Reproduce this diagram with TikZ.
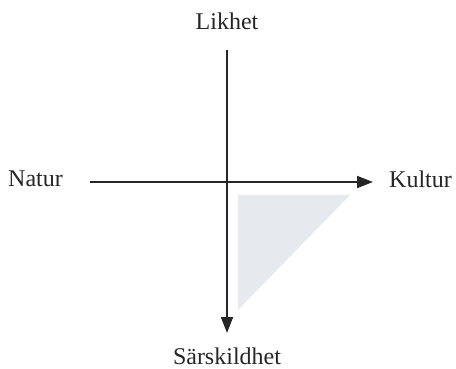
\documentclass[tikz,border=0pt]{standalone}
\usepackage{fontspec}
\setmainfont{Liberation Serif}
\usetikzlibrary{arrows.meta}
\definecolor{triShade}{HTML}{E6EAEE}
\tikzset{
  axis/.style={line width=1.8pt, -{Triangle[length=16pt,width=12pt]}, draw=black!85},
  lbl/.style={font=\fontsize{24}{28}\selectfont, text=black!85, inner sep=0pt}
}
\begin{document}
\begin{tikzpicture}[x=1pt,y=-1pt]
\useasboundingbox (0,0) rectangle (456,369);
\fill[triShade] (238,195) -- (350,195) -- (238,310) -- cycle;
\coordinate (vtop) at (227,50);
\coordinate (vbot) at (227,333);
\coordinate (hleft) at (90,182);
\coordinate (hright) at (373,182);
\draw[axis] (vtop) -- (vbot);
\draw[axis] (hleft) -- (hright);
\node[lbl] (likhet) at (227,21) {Likhet};
\node[lbl, anchor=west] (natur) at (8,179) {Natur};
\node[lbl, anchor=west] (kultur) at (389,179) {Kultur};
\node[lbl] (sars) at (227,356) {Särskildhet};
\end{tikzpicture}
\end{document}
